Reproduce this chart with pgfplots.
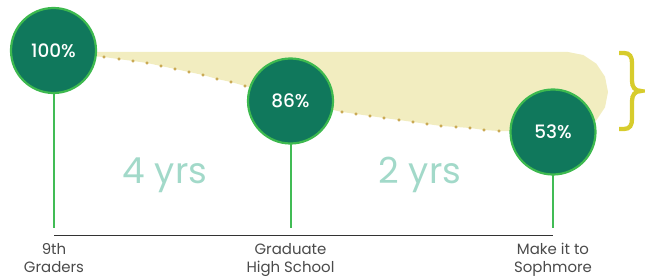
\documentclass[border=0pt]{standalone}
\usepackage{pgfplots}
\pgfplotsset{compat=1.18}
\usepackage{pgfplotstable}
\usepackage{fontspec}
\setmainfont{Poppins}[BoldFont={Poppins Medium}]
\definecolor{circfill}{HTML}{10785C}
\definecolor{circedge}{HTML}{3DB94F}
\definecolor{stemc}{HTML}{41BC55}
\definecolor{band}{HTML}{F2EDC0}
\definecolor{dotc}{HTML}{C8A64E}
\definecolor{yrs}{HTML}{A2D9C9}
\definecolor{bracec}{HTML}{D7CC2C}
\definecolor{lab}{HTML}{4A4A4A}
\definecolor{axc}{HTML}{333333}

\pgfplotstableread{
x y value
53.5 229.5 100
290.5 179 86
553 148 53
}\nodestab

\begin{document}
\begin{tikzpicture}
\begin{axis}[width=645bp,height=280bp,scale only axis,
  xmin=0,xmax=645,ymin=0,ymax=280,axis lines=none,clip=false]
% band
\addplot[fill=band,draw=none] coordinates {
(60,228) (568,228) (583.3,225.0) (596.3,216.3) (605.0,203.3) (608,188)
(605.0,172.7) (596.3,159.7) (583.3,151.0) (568,148) (540,148)
(499,149) (484,150) (470,152) (456,153) (441,154) (427,156) (413,158)
(399,160) (384,162) (370,164) (356,166) (342,168) (320,173) (300,178)
(280,184) (260,190) (245,194) (231,198) (217,201) (203,205) (189,208)
(175,211) (161,214) (147,217) (133,219) (118,221) (104,223) (60,226)} -- cycle;
% dotted edge
\addplot[only marks, mark=*, mark size=1.4bp, color=dotc] coordinates {
(104,223) (119,221) (133,219) (147,217) (161,214) (175,211) (189,208)
(203,205) (217,201) (231,198) (245,194)
(342,168) (356,166) (370,164) (384,162) (399,160) (413,158) (427,156)
(441,154) (456,153) (470,152) (484,150) (499,149)};
% stems
\addplot[stemc, line width=2bp, unbounded coords=jump] coordinates {
(53.5,229) (53.5,52) (nan,nan) (290.5,179) (290.5,52) (nan,nan) (553,148) (553,52)};
% baseline
\addplot[axc, line width=1bp] coordinates {(54,44) (553,44)};
% circles
\addplot[only marks, mark=*, mark size=42.5bp,
  mark options={fill=circfill, draw=circedge, line width=2.2bp},
  point meta=explicit symbolic,
  nodes near coords={\pgfplotspointmeta\%},
  every node near coord/.append style={anchor=center, text=white,
    font=\bfseries\fontsize{18.5}{18.5}\selectfont, inner sep=0pt}]
  table[x=x,y=y,meta=value]{\nodestab};
% brace
\draw[bracec, line width=4.3bp, line cap=butt]
  (619,227) -- (624,227) .. controls (630,227) and (632,223) .. (632,217)
  -- (632,199) .. controls (632,193) and (635,189) .. (641,189)
  .. controls (635,189) and (632,185) .. (632,179)
  -- (632,161) .. controls (632,155) and (630,151) .. (624,151) -- (619,151);
% texts
\node[anchor=base, font=\fontsize{36}{36}\selectfont, text=yrs] at (165,97) {4 yrs};
\node[anchor=base, font=\fontsize{36}{36}\selectfont, text=yrs] at (420,97) {2 yrs};
\node[anchor=north, align=center, inner sep=0pt, font=\fontsize{15}{18}\selectfont, text=lab] at (54,37) {9th\\Graders};
\node[anchor=north, align=center, inner sep=0pt, font=\fontsize{15}{18}\selectfont, text=lab] at (290.5,37) {Graduate\\High School};
\node[anchor=north, align=center, inner sep=0pt, font=\fontsize{15}{18}\selectfont, text=lab] at (553,37) {Make it to\\Sophmore};
\end{axis}
\pgfresetboundingbox
\path (0,0) rectangle (645bp,280bp);
\end{tikzpicture}
\end{document}
